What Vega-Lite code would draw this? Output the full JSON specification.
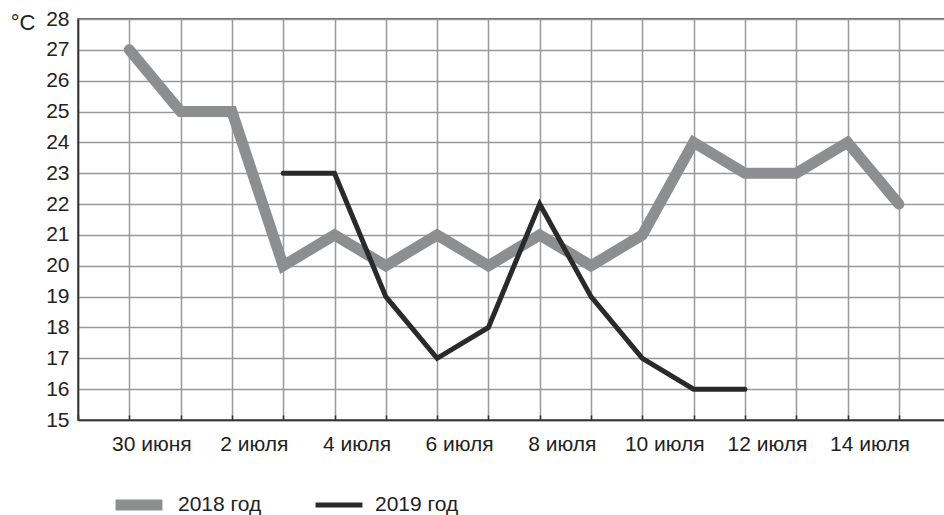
{
  "$schema": "https://vega.github.io/schema/vega-lite/v6.json",
  "width": 867,
  "height": 401,
  "autosize": {"type": "none"},
  "padding": {"left": 78, "top": 19, "right": 0, "bottom": 95},
  "background": "white",
  "config": {
    "font": "Liberation Sans",
    "view": {"stroke": "#333333", "strokeWidth": 1.5}
  },
  "data": {
    "values": [
      {"year": "2018 год", "day": 1, "temp": 27},
      {"year": "2018 год", "day": 2, "temp": 25},
      {"year": "2018 год", "day": 3, "temp": 25},
      {"year": "2018 год", "day": 4, "temp": 20},
      {"year": "2018 год", "day": 5, "temp": 21},
      {"year": "2018 год", "day": 6, "temp": 20},
      {"year": "2018 год", "day": 7, "temp": 21},
      {"year": "2018 год", "day": 8, "temp": 20},
      {"year": "2018 год", "day": 9, "temp": 21},
      {"year": "2018 год", "day": 10, "temp": 20},
      {"year": "2018 год", "day": 11, "temp": 21},
      {"year": "2018 год", "day": 12, "temp": 24},
      {"year": "2018 год", "day": 13, "temp": 23},
      {"year": "2018 год", "day": 14, "temp": 23},
      {"year": "2018 год", "day": 15, "temp": 24},
      {"year": "2018 год", "day": 16, "temp": 22},
      {"year": "2019 год", "day": 4, "temp": 23},
      {"year": "2019 год", "day": 5, "temp": 23},
      {"year": "2019 год", "day": 6, "temp": 19},
      {"year": "2019 год", "day": 7, "temp": 17},
      {"year": "2019 год", "day": 8, "temp": 18},
      {"year": "2019 год", "day": 9, "temp": 22},
      {"year": "2019 год", "day": 10, "temp": 19},
      {"year": "2019 год", "day": 11, "temp": 17},
      {"year": "2019 год", "day": 12, "temp": 16},
      {"year": "2019 год", "day": 13, "temp": 16}
    ]
  },
  "mark": {"type": "line", "strokeCap": "round", "strokeJoin": "miter"},
  "encoding": {
    "x": {
      "field": "day",
      "type": "quantitative",
      "scale": {"domain": [0, 16.9], "nice": false, "zero": false},
      "axis": {
        "title": null,
        "values": [0, 1, 2, 3, 4, 5, 6, 7, 8, 9, 10, 11, 12, 13, 14, 15, 16],
        "labelExpr": "datum.value == 1 ? '30 июня' : (datum.value % 2 == 1 ? (datum.value - 1) + ' июля' : '')",
        "labelOverlap": false,
        "labelFlush": false,
        "grid": true,
        "gridColor": "#999999",
        "gridWidth": 1.5,
        "domainColor": "#333333",
        "domainWidth": 1.5,
        "tickColor": "#333333",
        "tickWidth": 1.5,
        "tickSize": -5,
        "labelFontSize": 21,
        "labelColor": "#222222",
        "labelOffset": 22,
        "labelPadding": 18
      }
    },
    "y": {
      "field": "temp",
      "type": "quantitative",
      "scale": {"domain": [15, 28], "nice": false, "zero": false},
      "axis": {
        "values": [15, 16, 17, 18, 19, 20, 21, 22, 23, 24, 25, 26, 27, 28],
        "title": "°C",
        "titleAngle": 0,
        "titleFontSize": 22,
        "titleFontWeight": "normal",
        "titleColor": "#222222",
        "titleAlign": "right",
        "titleBaseline": "middle",
        "titleX": -43,
        "titleY": 3,
        "grid": true,
        "gridColor": "#999999",
        "gridWidth": 1.5,
        "domainColor": "#333333",
        "domainWidth": 1.5,
        "ticks": false,
        "labelFontSize": 21,
        "labelColor": "#222222",
        "labelPadding": 9
      }
    },
    "color": {
      "field": "year",
      "type": "nominal",
      "scale": {"domain": ["2018 год", "2019 год"], "range": ["#8d8e90", "#2a2a2a"]},
      "legend": {
        "title": null,
        "orient": "none",
        "direction": "horizontal",
        "legendX": 32,
        "legendY": 474,
        "clipHeight": 24,
        "symbolType": "stroke",
        "symbolSize": 2200,
        "labelFontSize": 21,
        "labelColor": "#222222",
        "labelOffset": 10,
        "columnPadding": 51
      }
    },
    "strokeWidth": {
      "field": "year",
      "type": "nominal",
      "scale": {"domain": ["2018 год", "2019 год"], "range": [11, 5]},
      "legend": {
        "title": null,
        "orient": "none",
        "direction": "horizontal",
        "legendX": 32,
        "legendY": 474,
        "clipHeight": 24,
        "symbolType": "stroke",
        "symbolSize": 2200,
        "labelFontSize": 21,
        "labelColor": "#222222",
        "labelOffset": 10,
        "columnPadding": 51
      }
    }
  }
}
